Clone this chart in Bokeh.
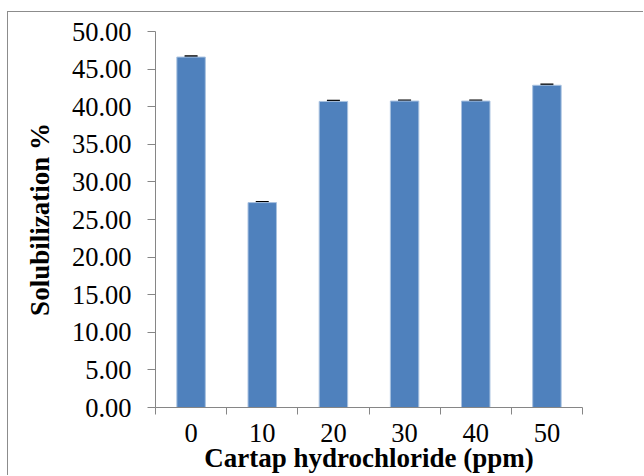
from bokeh.plotting import figure
from bokeh.models import (ColumnDataSource, FixedTicker, NumeralTickFormatter,
                          Whisker, Range1d)
from bokeh.embed import file_html
from bokeh.resources import INLINE

categories = ["0", "10", "20", "30", "40", "50"]
values = [46.6, 27.25, 40.7, 40.75, 40.75, 42.85]
errors = [0.1, 0.08, 0.1, 0.08, 0.08, 0.1]
y_ticks = [0, 5, 10, 15, 20, 25, 30, 35, 40, 45, 50]
x_title = "Cartap hydrochloride (ppm)"
y_title = "Solubilization %"

xs = [i + 0.5 for i in range(len(categories))]
src = ColumnDataSource(dict(
    x=xs, top=values,
    upper=[v + e for v, e in zip(values, errors)],
    lower=[v - e for v, e in zip(values, errors)],
))

FONT = "Liberation Serif"
AXIS_COL = "#868686"
TICK_FS = "26.5px"
TITLE_FS = "27px"

p = figure(width=636, height=464, output_backend="svg", toolbar_location=None,
           x_range=Range1d(0, len(categories)), y_range=Range1d(0, 50),
           min_border_left=147, min_border_right=62, min_border_top=19,
           min_border_bottom=69)
p.styles = {"margin-left": "7px", "margin-top": "11px",
            "border-left": "1px solid #8C8C8C", "border-top": "1px solid #8C8C8C"}
p.outline_line_color = None
p.grid.grid_line_color = None
p.background_fill_color = "white"
p.border_fill_color = "white"

p.vbar(x="x", top="top", width=0.4, source=src, fill_color="#4F81BD",
       line_color="#A9C2E0", line_width=1)

w = Whisker(source=src, base="x", upper="upper", lower="lower",
            line_color="black", line_width=1)
for head in (w.upper_head, w.lower_head):
    head.size = 13
    head.line_width = 2
    head.line_color = "black"
p.add_layout(w)

# x axis
p.xaxis.ticker = FixedTicker(ticks=xs, minor_ticks=list(range(len(categories) + 1)))
p.xaxis.major_label_overrides = {x: c for x, c in zip(xs, categories)}
p.xaxis.major_tick_out = 0
p.xaxis.major_tick_in = 0
p.xaxis.minor_tick_out = 7
p.xaxis.minor_tick_in = 0
p.xaxis.minor_tick_line_color = AXIS_COL
p.xaxis.axis_line_color = AXIS_COL
p.xaxis.major_label_text_font = FONT
p.xaxis.major_label_text_font_size = TICK_FS
p.xaxis.major_label_text_color = "black"
p.xaxis.major_label_standoff = 9
p.xaxis.axis_label = x_title
p.xaxis.axis_label_text_font = FONT
p.xaxis.axis_label_text_font_size = TITLE_FS
p.xaxis.axis_label_text_font_style = "bold"
p.xaxis.axis_label_text_color = "black"
p.xaxis.axis_label_standoff = -2

# y axis
p.yaxis.ticker = FixedTicker(ticks=y_ticks)
p.yaxis.formatter = NumeralTickFormatter(format="0.00")
p.yaxis.major_tick_out = 8
p.yaxis.major_tick_in = 0
p.yaxis.minor_tick_line_color = None
p.yaxis.major_tick_line_color = AXIS_COL
p.yaxis.axis_line_color = AXIS_COL
p.yaxis.major_label_text_font = FONT
p.yaxis.major_label_text_font_size = TICK_FS
p.yaxis.major_label_text_color = "black"
p.yaxis.major_label_standoff = 16
p.yaxis.axis_label = y_title
p.yaxis.axis_label_text_font = FONT
p.yaxis.axis_label_text_font_size = TITLE_FS
p.yaxis.axis_label_text_font_style = "bold"
p.yaxis.axis_label_text_color = "black"
p.yaxis.axis_label_standoff = 14

open("out.html", "w").write(file_html(p, INLINE))
